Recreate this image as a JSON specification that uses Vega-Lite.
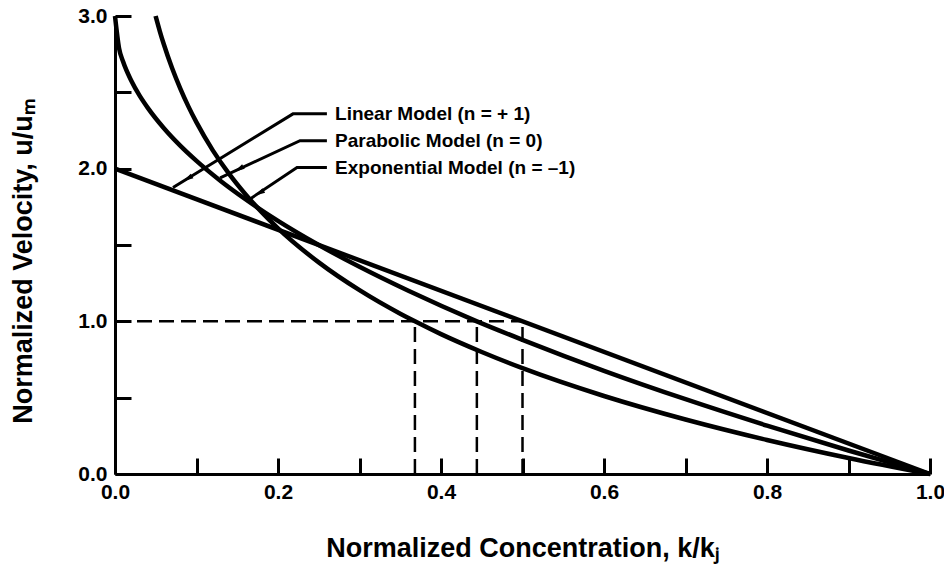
{
  "$schema": "https://vega.github.io/schema/vega-lite/v6.json",
  "width": 815,
  "height": 458,
  "autosize": {"type": "none"},
  "padding": {"left": 115, "top": 16, "right": 14, "bottom": 94},
  "background": "white",
  "config": {
    "view": {"stroke": null},
    "font": "Liberation Sans",
    "axis": {
      "grid": false,
      "domainColor": "black",
      "domainWidth": 3,
      "tickColor": "black",
      "tickWidth": 3,
      "tickSize": -16,
      "labelFont": "Liberation Sans",
      "labelFontSize": 21,
      "labelFontWeight": "bold",
      "labelColor": "black",
      "titleFont": "Liberation Sans",
      "titleFontSize": 27,
      "titleFontWeight": "bold",
      "titleColor": "black"
    }
  },
  "datasets": {
    "curves": [
      {"model": "Linear", "x": 0, "y": 2},
      {"model": "Linear", "x": 1, "y": 0},
      {"model": "Parabolic", "x": 0, "y": 3},
      {"model": "Parabolic", "x": 0.005, "y": 2.788},
      {"model": "Parabolic", "x": 0.01, "y": 2.7},
      {"model": "Parabolic", "x": 0.02, "y": 2.576},
      {"model": "Parabolic", "x": 0.03, "y": 2.48},
      {"model": "Parabolic", "x": 0.04, "y": 2.4},
      {"model": "Parabolic", "x": 0.06, "y": 2.265},
      {"model": "Parabolic", "x": 0.08, "y": 2.151},
      {"model": "Parabolic", "x": 0.1, "y": 2.051},
      {"model": "Parabolic", "x": 0.13, "y": 1.918},
      {"model": "Parabolic", "x": 0.16, "y": 1.8},
      {"model": "Parabolic", "x": 0.2, "y": 1.658},
      {"model": "Parabolic", "x": 0.25, "y": 1.5},
      {"model": "Parabolic", "x": 0.3, "y": 1.357},
      {"model": "Parabolic", "x": 0.36, "y": 1.2},
      {"model": "Parabolic", "x": 0.444, "y": 1.0},
      {"model": "Parabolic", "x": 0.5, "y": 0.879},
      {"model": "Parabolic", "x": 0.6, "y": 0.676},
      {"model": "Parabolic", "x": 0.7, "y": 0.49},
      {"model": "Parabolic", "x": 0.8, "y": 0.317},
      {"model": "Parabolic", "x": 0.9, "y": 0.154},
      {"model": "Parabolic", "x": 1.0, "y": 0},
      {"model": "Exponential", "x": 0.0498, "y": 3.0},
      {"model": "Exponential", "x": 0.055, "y": 2.9},
      {"model": "Exponential", "x": 0.06, "y": 2.813},
      {"model": "Exponential", "x": 0.07, "y": 2.659},
      {"model": "Exponential", "x": 0.08, "y": 2.526},
      {"model": "Exponential", "x": 0.09, "y": 2.408},
      {"model": "Exponential", "x": 0.1, "y": 2.303},
      {"model": "Exponential", "x": 0.12, "y": 2.12},
      {"model": "Exponential", "x": 0.14, "y": 1.966},
      {"model": "Exponential", "x": 0.16, "y": 1.833},
      {"model": "Exponential", "x": 0.18, "y": 1.715},
      {"model": "Exponential", "x": 0.2, "y": 1.609},
      {"model": "Exponential", "x": 0.25, "y": 1.386},
      {"model": "Exponential", "x": 0.3, "y": 1.204},
      {"model": "Exponential", "x": 0.35, "y": 1.05},
      {"model": "Exponential", "x": 0.368, "y": 1.0},
      {"model": "Exponential", "x": 0.4, "y": 0.916},
      {"model": "Exponential", "x": 0.45, "y": 0.799},
      {"model": "Exponential", "x": 0.5, "y": 0.693},
      {"model": "Exponential", "x": 0.6, "y": 0.511},
      {"model": "Exponential", "x": 0.7, "y": 0.357},
      {"model": "Exponential", "x": 0.8, "y": 0.223},
      {"model": "Exponential", "x": 0.9, "y": 0.105},
      {"model": "Exponential", "x": 1.0, "y": 0}
    ],
    "guides": [
      {"x": 0, "x2": 0.5, "y": 1, "y2": 1},
      {"x": 0.368, "x2": 0.368, "y": 0, "y2": 1},
      {"x": 0.444, "x2": 0.444, "y": 0, "y2": 1},
      {"x": 0.5, "x2": 0.5, "y": 0, "y2": 1}
    ],
    "leaders": [
      {"model": "Linear", "x": 0.0712, "y": 1.876},
      {"model": "Linear", "x": 0.2184, "y": 2.359},
      {"model": "Linear", "x": 0.26, "y": 2.359},
      {"model": "Parabolic", "x": 0.129, "y": 1.94},
      {"model": "Parabolic", "x": 0.227, "y": 2.183},
      {"model": "Parabolic", "x": 0.26, "y": 2.183},
      {"model": "Exponential", "x": 0.1644, "y": 1.797},
      {"model": "Exponential", "x": 0.2233, "y": 2.007},
      {"model": "Exponential", "x": 0.26, "y": 2.007}
    ],
    "arrows": [
      {"model": "Linear", "x": 0.089, "y": 1.935},
      {"model": "Parabolic", "x": 0.152, "y": 1.997},
      {"model": "Exponential", "x": 0.177, "y": 1.84}
    ],
    "labels": [
      {"x": 0.27, "y": 2.359, "text": "Linear Model (n = + 1)"},
      {"x": 0.27, "y": 2.183, "text": "Parabolic Model (n = 0)"},
      {"x": 0.27, "y": 2.007, "text": "Exponential Model (n = –1)"}
    ]
  },
  "encoding": {
    "x": {
      "field": "x",
      "type": "quantitative",
      "scale": {"domain": [0, 1], "nice": false, "zero": false},
      "axis": {
        "title": "Normalized Concentration, k/kⱼ",
        "values": [0, 0.1, 0.2, 0.3, 0.4, 0.5, 0.6, 0.7, 0.8, 0.9, 1.0],
        "labelExpr": "round(datum.value * 10) % 2 == 0 ? format(datum.value, '.1f') : ''",
        "labelFlush": false,
        "labelPadding": 23,
        "labelBaseline": "top",
        "titleY": 74,
        "titleBaseline": "middle"
      }
    },
    "y": {
      "field": "y",
      "type": "quantitative",
      "scale": {"domain": [0, 3], "nice": false, "zero": false},
      "axis": {
        "title": "Normalized Velocity, u/uₘ",
        "values": [0, 0.5, 1, 1.5, 2, 2.5, 3],
        "labelExpr": "datum.value % 1 == 0 ? format(datum.value, '.1f') : ''",
        "labelPadding": 24,
        "titleX": -92,
        "titleY": 245,
        "titleBaseline": "middle"
      }
    }
  },
  "layer": [
    {
      "data": {"name": "guides"},
      "mark": {"type": "rule", "color": "black", "strokeWidth": 2.5, "strokeDash": [15, 7]},
      "encoding": {"x2": {"field": "x2"}, "y2": {"field": "y2"}}
    },
    {
      "data": {"name": "curves"},
      "mark": {"type": "line", "color": "black", "strokeWidth": 4.5, "interpolate": "monotone"},
      "encoding": {"detail": {"field": "model"}}
    },
    {
      "data": {"name": "leaders"},
      "mark": {"type": "line", "color": "black", "strokeWidth": 3},
      "encoding": {"detail": {"field": "model"}}
    },
    {
      "data": {"name": "arrows"},
      "mark": {"type": "point", "shape": "M0,-1L0.5,1L-0.5,1Z", "filled": true, "color": "black", "opacity": 1, "size": 110, "angle": 240}
    },
    {
      "data": {"name": "labels"},
      "mark": {"type": "text", "align": "left", "baseline": "middle", "font": "Liberation Sans", "fontSize": 19, "fontWeight": "bold", "color": "black"},
      "encoding": {"text": {"field": "text"}}
    }
  ]
}
